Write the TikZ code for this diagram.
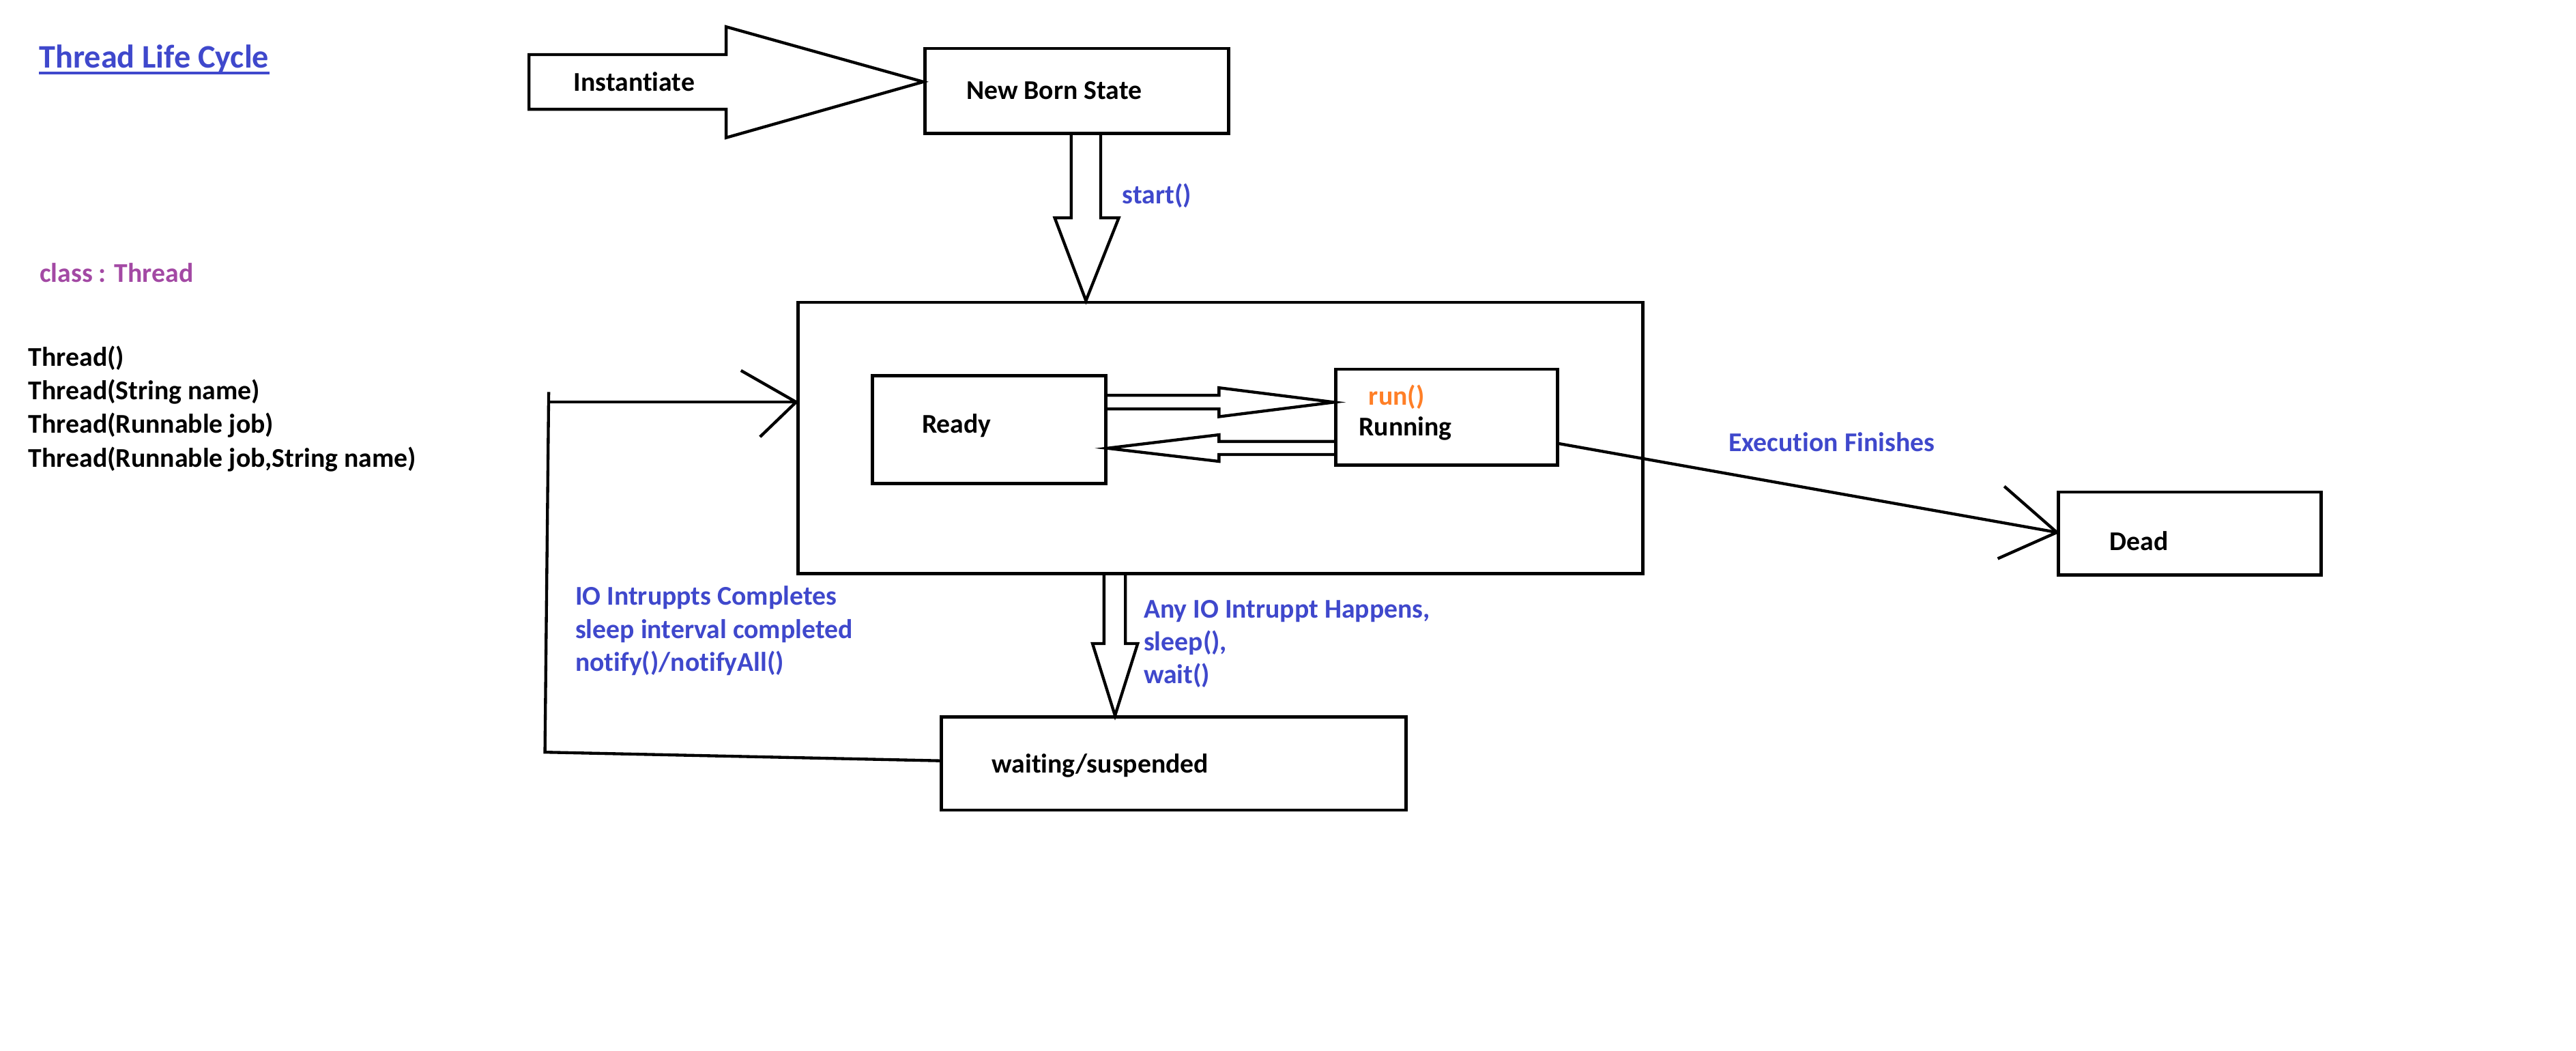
\documentclass[tikz,border=0pt]{standalone}
\usepackage{fontspec}
\setmainfont{Carlito}[Ligatures={NoCommon,NoContextual}]
\definecolor{paintblue}{RGB}{63,72,204}
\definecolor{paintpurple}{RGB}{163,73,164}
\definecolor{paintorange}{RGB}{255,127,39}
\begin{document}
\begin{tikzpicture}[x=1pt,y=-1pt,
  txt/.style={anchor=base west, inner sep=0pt, font=\bfseries\fontsize{16.5}{20}\selectfont},
  lbl/.style={txt, text=paintblue},
  box/.style={draw, line width=2pt, inner sep=0pt},
  ln/.style={line width=1.8pt, line join=miter, line cap=butt}]
\useasboundingbox (0,0) rectangle (1568,639.66);
\fill[white] (0,0) rectangle (1568,639.66);

% boxes
\node[box, minimum width=185, minimum height=51.8] (nb) at (655.5,55.4) {};
\node[box, minimum width=514.4, minimum height=165] (big) at (742.8,266.5) {};
\node[box, minimum width=142, minimum height=65.7] (ready) at (602,261.35) {};
\node[box, minimum width=135, minimum height=58.5] (running) at (880.5,253.95) {};
\node[box, minimum width=160, minimum height=50.5] (dead) at (1333,324.75) {};
\node[box, minimum width=283, minimum height=56.5] (wait) at (714.5,464.75) {};

% texts
\node[txt, text=paintblue, font=\bfseries\fontsize{20}{24}\selectfont] (title) at (23.7,41.5) {Thread Life Cycle};
\draw[paintblue, line width=1.5pt] ([yshift=-3]title.base west) -- ([yshift=-3]title.base east);
\node[txt, text=paintpurple] (cls) at (24,171.7) {class : Thread};
\node[txt] (c1) at (17.2,222.7) {Thread()};
\node[txt] (c2) at (17.2,243.3) {Thread(String name)};
\node[txt] (c3) at (17.2,263.6) {Thread(Runnable job)};
\node[txt] (c4) at (17.2,284.2) {Thread(Runnable job,String name)};

\node[txt] (insttxt) at (349,55.4) {Instantiate};
\node[txt] (nbtxt) at (588,60.5) {New Born State};
\node[lbl] (start) at (683,123.9) {start()};
\node[txt] (readytxt) at (561,263.5) {Ready};
\node[txt, text=paintorange] (run) at (833,246.4) {run()};
\node[txt] (runtxt) at (827,265.1) {Running};
\node[txt] (deadtxt) at (1284,334.8) {Dead};
\node[txt] (waittxt) at (603.5,470.3) {waiting/suspended};
\node[lbl] (exec) at (1052,274.8) {Execution Finishes};
\node[lbl] (io1) at (350,368.3) {IO Intruppts Completes};
\node[lbl] (io2) at (350,388.4) {sleep interval completed};
\node[lbl] (io3) at (350,408.6) {notify()/notifyAll()};
\node[lbl] (any1) at (696,375.9) {Any IO Intruppt Happens,};
\node[lbl] (any2) at (696,396) {sleep(),};
\node[lbl] (any3) at (696,416.1) {wait()};

% Instantiate block arrow
\draw[ln] (322,33.2) -- (442,33.2) -- (442,16.3) -- (nb.west |- 0,49.8) -- (442,83.8) -- (442,66.5) -- (322,66.5) -- cycle;

% start() block arrow
\draw[ln] (nb.south -| 652,0) -- (652,132.6) -- (642,132.6) -- (big.north -| 661,0) -- (681,132.6) -- (670,132.6) -- (nb.south -| 670,0);

% Ready -> Running
\draw[ln] (ready.east |- 0,240.6) -- (742,240.6) -- (742,236) -- (running.west |- 0,244.8) -- (742,253.6) -- (742,248.9) -- (ready.east |- 0,248.9);
% Running -> Ready
\draw[ln] (running.west |- 0,268.7) -- (742,268.7) -- (742,264.6) -- (ready.east |- 0,272.8) -- (742,280.8) -- (742,276.6) -- (running.west |- 0,276.6);

% big -> waiting
\draw[ln] (big.south -| 672,0) -- (672,391.7) -- (665,391.7) -- (wait.north -| 678.7,0) -- (692.5,391.7) -- (685,391.7) -- (big.south -| 685,0);

% waiting -> big (loop)
\coordinate (lb) at (331.7,457.8);
\coordinate (lt) at (334,238.6);
\coordinate (tip) at (big.west |- 0,244.7);
\draw[ln] (wait.west |- 0,463) -- (lb) -- (lt);
\draw[ln] (334,244.7) -- (tip);
\draw[ln] (451,225.5) -- (tip) -- (462.6,265.9);

% Running -> Dead
\coordinate (dtip) at (dead.west |- 0,324);
\draw[ln] (running.east |- 0,270) -- (dtip);
\draw[ln] (1220,296) -- (dtip) -- (1216,340);
\end{tikzpicture}
\end{document}
